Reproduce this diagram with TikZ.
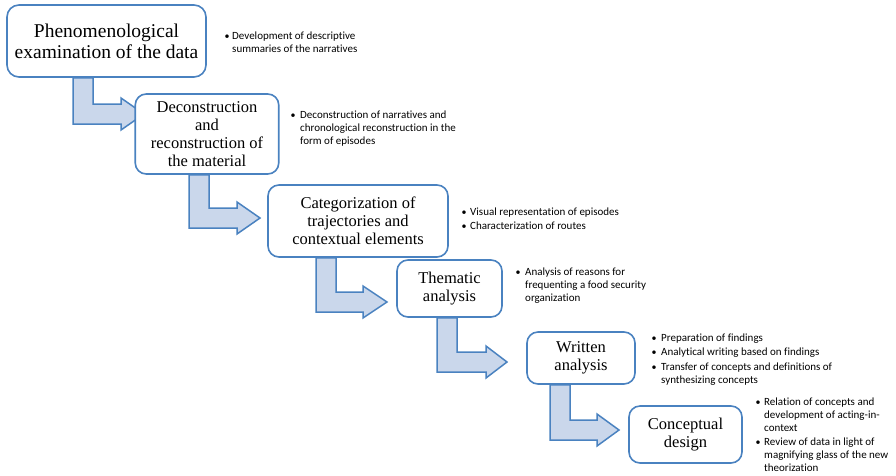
\documentclass[tikz,border=0pt]{standalone}
\usepackage{fontspec}
\setmainfont{Liberation Serif}
\newfontfamily\bulfont[Ligatures=NoCommon]{Carlito}
\usetikzlibrary{backgrounds}
\definecolor{accblue}{RGB}{74,130,192}
\definecolor{accfill}{RGB}{202,215,235}
\begin{document}
\begin{tikzpicture}[x=1pt,y=-1pt,
  box/.style={draw=accblue, line width=1.6pt, fill=white, rounded corners=11pt, align=center, inner sep=0pt, font=\fontsize{16.5}{18}\selectfont},
  arr/.style={draw=accblue, line width=1.5pt, fill=accfill, line join=miter},
  bul/.style={anchor=base west, inner sep=0pt, font=\bulfont\fontsize{11}{12.8}\selectfont},
  dotmark/.style={anchor=base, inner sep=0pt, font=\bulfont\fontsize{10}{12.8}\selectfont}]
\useasboundingbox (0,0) rectangle (896,475);

% boxes
\node[box, minimum width=199pt, minimum height=72pt, rounded corners=12pt, font=\fontsize{19.5}{21}\selectfont] (b1) at (106.5,41) {Phenomenological\\examination of the data};
\node[box, minimum width=143.5pt, minimum height=80pt] (b2) at (207,134) {Deconstruction\\and\\reconstruction of\\the material};
\node[box, minimum width=180pt, minimum height=72pt] (b3) at (358,221) {Categorization of\\trajectories and\\contextual elements};
\node[box, minimum width=105pt, minimum height=57pt] (b4) at (449.5,288.5) {Thematic\\analysis};
\node[box, minimum width=108pt, minimum height=52pt] (b5) at (581,358) {Written\\analysis};
\node[box, minimum width=113pt, minimum height=57pt] (b6) at (685.5,434.5) {Conceptual\\design};

% bent arrows
\begin{scope}[on background layer]
\draw[arr] (73,0 |- b1.south) -- (93,0 |- b1.south) -- (93,104) -- (121,104) -- (121,98) -- (144,114) -- (121,130) -- (121,124) -- (73,124) -- cycle;
\draw[arr] (189,0 |- b2.south) -- (209,0 |- b2.south) -- (209,208) -- (237,208) -- (237,202) -- (260,218) -- (237,234) -- (237,228) -- (189,228) -- cycle;
\draw[arr] (316,0 |- b3.south) -- (336,0 |- b3.south) -- (336,292) -- (363,292) -- (363,286) -- (387,302) -- (363,318) -- (363,312) -- (316,312) -- cycle;
\draw[arr] (437,0 |- b4.south) -- (457,0 |- b4.south) -- (457,352) -- (486,352) -- (486,346) -- (507,362) -- (486,378) -- (486,372) -- (437,372) -- cycle;
\draw[arr] (550,0 |- b5.south) -- (570,0 |- b5.south) -- (570,420) -- (597,420) -- (597,414) -- (619,430) -- (597,446) -- (597,440) -- (550,440) -- cycle;
\end{scope}

% bullet lists
\node[dotmark] (d1) at (227,39.5) {•};
\node[bul] (t1) at (232,39.5) {\begin{tabular}[t]{@{}l@{}}Development of descriptive\\summaries of the narratives\end{tabular}};

\node[dotmark] (d2) at (293,118.5) {•};
\node[bul] (t2) at (300,118.5) {\begin{tabular}[t]{@{}l@{}}Deconstruction of narratives and\\chronological reconstruction in the\\form of episodes\end{tabular}};

\node[dotmark] (d3a) at (464,215.5) {•};
\node[bul] (t3a) at (470,215.5) {Visual representation of episodes};
\node[dotmark] (d3b) at (464,229.5) {•};
\node[bul] (t3b) at (470,229.5) {Characterization of routes};

\node[dotmark] (d4) at (518,275.5) {•};
\node[bul] (t4) at (525,275.5) {\begin{tabular}[t]{@{}l@{}}Analysis of reasons for\\frequenting a food security\\organization\end{tabular}};

\node[dotmark] (d5a) at (654,341.5) {•};
\node[bul] (t5a) at (661,341.5) {Preparation of findings};
\node[dotmark] (d5b) at (654,355.5) {•};
\node[bul] (t5b) at (661,355.5) {Analytical writing based on findings};
\node[dotmark] (d5c) at (654,370.5) {•};
\node[bul] (t5c) at (661,370.5) {\begin{tabular}[t]{@{}l@{}}Transfer of concepts and definitions of\\synthesizing concepts\end{tabular}};

\node[dotmark] (d6a) at (758,405.5) {•};
\node[bul] (t6a) at (764,405.5) {\begin{tabular}[t]{@{}l@{}}Relation of concepts and\\development of acting-in-\\context\end{tabular}};
\node[dotmark] (d6b) at (758,445.5) {•};
\node[bul] (t6b) at (764,445.5) {\begin{tabular}[t]{@{}l@{}}Review of data in light of\\magnifying glass of the new\\theorization\end{tabular}};
\end{tikzpicture}
\end{document}
